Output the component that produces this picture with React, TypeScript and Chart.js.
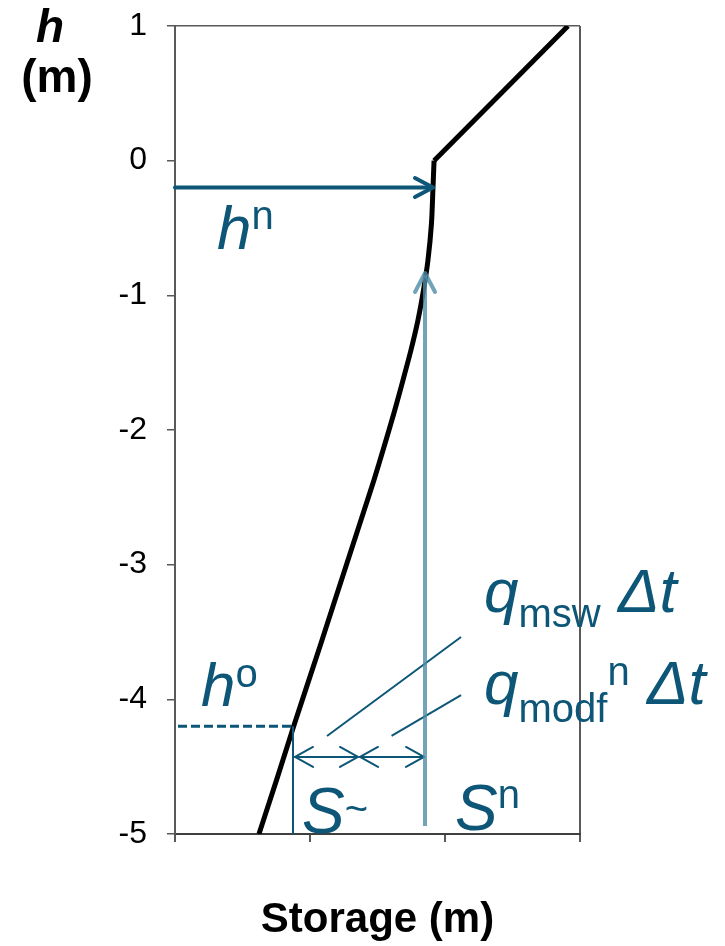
import React, { useEffect, useRef } from "react";
import { Chart, registerables } from "chart.js";

Chart.register(...registerables);

// ---- data ----
// lower (curved) branch of the storage curve, h from -5 up to 0
const curveStorage = [0.622, 0.752, 0.879, 1.076, 1.27, 1.4, 1.474, 1.548, 1.622, 1.689, 1.748, 1.8, 1.841, 1.874, 1.9, 1.911, 1.919];
const curveHead = [-5, -4.6, -4.2, -3.6, -3.0, -2.6, -2.371, -2.126, -1.874, -1.629, -1.406, -1.183, -0.96, -0.738, -0.463, -0.2, 0];
// upper (linear) branch, h from 0 to 1
const upperStorage = [1.919, 2.911];
const upperHead = [0, 1];
const yTicks = [-5, -4, -3, -2, -1, 0, 1];
const xTicks = [0, 1, 2, 3];

const hNew = -0.2;
const hNewStorage = 1.911;
const hOld = -4.2;
const sTilde = 0.874;
const sNew = 1.852;
const sMid = 1.363;
const deltaLevel = -4.428;
const sNewArrowHead = [-4.94, -0.834];
const leaderStart = [1.126, 1.604];
const leaderStartHead = [-4.272, -4.272];
const leaderEnd = [2.119, 2.119];
const leaderEndHead = [-3.537, -3.968];

// ---- styles ----
const FAMILY = '"Liberation Sans", Arial, sans-serif';
const TEAL = "#0d5677";
const LIGHT = "rgba(80,140,165,0.8)";
const AXIS = "#595959";

type Seg = { text: string; size: number; italic?: boolean; bold?: boolean; dy?: number };
type Label = { x: number; y: number; segs: Seg[] };

const labels: Label[] = [
  { x: 0.311, y: -0.656, segs: [{ text: "h", size: 62, italic: true }, { text: "n", size: 40, dy: -20 }] },
  { x: 0.193, y: -4.049, segs: [{ text: "h", size: 62, italic: true }, { text: "o", size: 40, dy: -19 }] },
  {
    x: 2.289, y: -3.351,
    segs: [{ text: "q", size: 62, italic: true }, { text: "msw", size: 40, dy: 15 }, { text: " \u0394t", size: 62, italic: true }],
  },
  {
    x: 2.289, y: -4.034,
    segs: [
      { text: "q", size: 62, italic: true },
      { text: "modf", size: 40, dy: 18 },
      { text: "n", size: 40, dy: -19 },
      { text: " \u0394t", size: 62, italic: true },
    ],
  },
  { x: 0.941, y: -4.992, segs: [{ text: "S", size: 64, italic: true }, { text: "~", size: 40, dy: -11 }] },
  { x: 2.074, y: -4.97, segs: [{ text: "S", size: 64, italic: true }, { text: "n", size: 40, dy: -22 }] },
];

function drawRich(ctx: CanvasRenderingContext2D, x: number, y: number, segs: Seg[], color: string) {
  let cx = x;
  ctx.textAlign = "left";
  ctx.textBaseline = "alphabetic";
  ctx.fillStyle = color;
  for (const s of segs) {
    ctx.font = `${s.italic ? "italic " : ""}${s.bold ? "bold " : ""}${s.size}px ${FAMILY}`;
    ctx.fillText(s.text, cx, y + (s.dy || 0));
    cx += ctx.measureText(s.text).width;
  }
}

function line(ctx: CanvasRenderingContext2D, x1: number, y1: number, x2: number, y2: number) {
  ctx.beginPath();
  ctx.moveTo(x1, y1);
  ctx.lineTo(x2, y2);
  ctx.stroke();
}

function chevron(ctx: CanvasRenderingContext2D, tx: number, ty: number, dx: number, dy: number, back: number, spread: number) {
  const bx = tx - dx * back;
  const by = ty - dy * back;
  const px = -dy;
  const py = dx;
  ctx.beginPath();
  ctx.moveTo(bx + px * spread, by + py * spread);
  ctx.lineTo(tx, ty);
  ctx.lineTo(bx - px * spread, by - py * spread);
  ctx.stroke();
}

const annotations = {
  id: "annotations",
  afterDatasetsDraw(chart: any) {
    const { ctx, scales } = chart;
    const X = (v: number) => scales.x.getPixelForValue(v);
    const Y = (v: number) => scales.y.getPixelForValue(v);
    ctx.save();
    ctx.lineCap = "round";
    ctx.lineJoin = "round";

    // h^n arrow
    ctx.strokeStyle = TEAL;
    ctx.lineWidth = 4;
    line(ctx, X(0), Y(hNew), X(hNewStorage), Y(hNew));
    chevron(ctx, X(hNewStorage), Y(hNew), 1, 0, 18, 9.5);

    // h^o dashed
    ctx.lineCap = "butt";
    ctx.lineWidth = 3;
    ctx.setLineDash([9, 4]);
    line(ctx, X(0) + 3, Y(hOld), X(sTilde), Y(hOld));
    ctx.setLineDash([]);

    // S~ vertical
    ctx.lineWidth = 2;
    line(ctx, X(sTilde), Y(hOld), X(sTilde), Y(-5));

    // leader lines
    ctx.lineWidth = 2;
    for (let i = 0; i < leaderStart.length; i++) {
      line(ctx, X(leaderStart[i]), Y(leaderStartHead[i]), X(leaderEnd[i]), Y(leaderEndHead[i]));
    }

    // double arrows
    ctx.lineCap = "round";
    ctx.lineWidth = 2;
    const ly = Y(deltaLevel);
    const a = X(sTilde) + 2, m = X(sMid), b = X(sNew) - 1;
    line(ctx, a, ly, m - 1, ly);
    chevron(ctx, a, ly, -1, 0, 18, 10);
    chevron(ctx, m - 1, ly, 1, 0, 18, 10);
    line(ctx, m + 1, ly, b, ly);
    chevron(ctx, m + 1, ly, -1, 0, 18, 10);
    chevron(ctx, b, ly, 1, 0, 18, 10);

    // S^n light arrow
    ctx.strokeStyle = LIGHT;
    ctx.lineWidth = 4;
    ctx.lineCap = "butt";
    ctx.beginPath();
    ctx.moveTo(X(sNew), Y(sNewArrowHead[0]));
    ctx.lineTo(X(sNew), Y(sNewArrowHead[1]) + 2);
    ctx.stroke();
    ctx.lineCap = "round";
    chevron(ctx, X(sNew), Y(sNewArrowHead[1]), 0, -1, 19, 10);

    // labels
    for (const l of labels) drawRich(ctx, X(l.x), Y(l.y), l.segs, TEAL);

    // y-axis title
    ctx.fillStyle = "#000";
    ctx.textAlign = "center";
    ctx.textBaseline = "alphabetic";
    ctx.font = `italic bold 46px ${FAMILY}`;
    ctx.fillText("h", 50, 42);
    ctx.font = `bold 46px ${FAMILY}`;
    ctx.fillText("(m)", 57, 92);
    ctx.restore();
  },
};

export default function App() {
  const ref = useRef<HTMLCanvasElement>(null);
  useEffect(() => {
    const lineStyle = {
      showLine: true,
      borderColor: "#000",
      borderWidth: 5,
      pointRadius: 0,
      borderJoinStyle: "round",
    };
    const chart = new Chart(ref.current!, {
      type: "scatter",
      data: {
        datasets: [
          {
            ...lineStyle,
            data: curveStorage.map((x, i) => ({ x, y: curveHead[i] })),
            tension: 0.25,
          } as any,
          {
            ...lineStyle,
            data: upperStorage.map((x, i) => ({ x, y: upperHead[i] })),
            tension: 0,
          } as any,
        ],
      },
      options: {
        animation: false,
        responsive: true,
        maintainAspectRatio: false,
        layout: { padding: { top: 26, right: 145, left: 0, bottom: 0 } },
        plugins: { legend: { display: false }, tooltip: { enabled: false } },
        scales: {
          x: {
            type: "linear",
            min: 0,
            max: 3,
            afterBuildTicks: (s: any) => {
              s.ticks = xTicks.map((v) => ({ value: v }));
            },
            afterFit: (s: any) => {
              s.height = 112;
              s.paddingLeft = 0;
              s.paddingRight = 0;
            },
            ticks: { display: false },
            grid: {
              drawOnChartArea: true,
              color: (c: any) => (c.tick && c.tick.value === 3 ? AXIS : "transparent"),
              tickColor: AXIS,
              tickLength: 8,
              lineWidth: 2,
            },
            border: { color: "#404040", width: 2 },
            title: {
              display: true,
              text: "Storage (m)",
              color: "#000",
              font: { family: FAMILY, size: 42, weight: "bold" },
              padding: 0,
            },
          },
          y: {
            type: "linear",
            min: -5,
            max: 1,
            afterBuildTicks: (s: any) => {
              s.ticks = yTicks.map((v) => ({ value: v }));
            },
            afterFit: (s: any) => {
              s.width = 175;
              s.paddingTop = 0;
              s.paddingBottom = 0;
            },
            ticks: {
              color: "#000",
              font: { family: FAMILY, size: 32 },
              padding: 20,
              callback: (v: any) => String(v),
            },
            grid: {
              drawOnChartArea: true,
              color: (c: any) => (c.tick && c.tick.value === 1 ? AXIS : "transparent"),
              tickColor: AXIS,
              tickLength: 8,
              lineWidth: 1.5,
            },
            border: { color: AXIS, width: 2 },
          },
        },
      } as any,
      plugins: [annotations],
    });
    return () => chart.destroy();
  }, []);
  return (
    <div style={{ position: "absolute", left: 0, top: 0, width: 725, height: 946 }}>
      <canvas ref={ref} />
    </div>
  );
}
